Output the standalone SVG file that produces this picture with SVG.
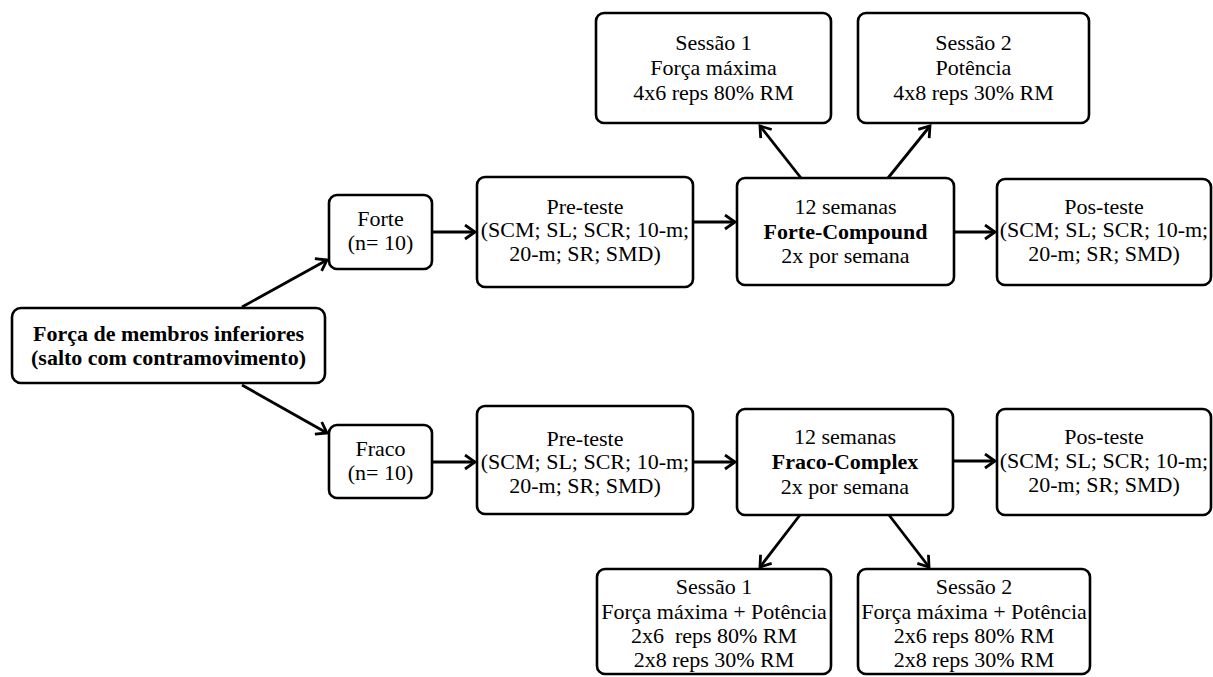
<svg xmlns="http://www.w3.org/2000/svg" width="1213" height="677" viewBox="0 0 1213 677">
<style>
.box{fill:#fff;stroke:#000;stroke-width:2.6}
text{font-family:"Liberation Serif","Times New Roman",serif;font-size:22px;fill:#000;text-anchor:middle}
.b{font-weight:bold}
.con line{stroke:#000;stroke-width:2.8}
</style>
<defs>
<marker id="ah" markerUnits="userSpaceOnUse" markerWidth="16" markerHeight="18" refX="12" refY="8" orient="auto">
<path d="M2,1 L12,8 L2,15" fill="none" stroke="#000" stroke-width="2.8"/>
</marker>
</defs>
<g id="main"><rect class="box" x="12" y="308" width="313" height="75" rx="9"/>
<text class="b" x="168.5" y="341">Força de membros inferiores</text>
<text class="b" x="168.5" y="365">(salto com contramovimento)</text></g>
<g id="forte"><rect class="box" x="329" y="195" width="103" height="74" rx="8"/>
<text x="380.5" y="226">Forte</text><text x="380.5" y="250">(n= 10)</text></g>
<g id="fraco"><rect class="box" x="329" y="425" width="103" height="73" rx="8"/>
<text x="380.5" y="456">Fraco</text><text x="380.5" y="480">(n= 10)</text></g>
<g id="pre1"><rect class="box" x="477" y="177" width="216" height="110" rx="8"/>
<text x="585" y="214">Pre-teste</text><text x="585" y="237">(SCM; SL; SCR; 10-m;</text><text x="585" y="261">20-m; SR; SMD)</text></g>
<g id="pre2"><rect class="box" x="477" y="406" width="216" height="108" rx="8"/>
<text x="585" y="446">Pre-teste</text><text x="585" y="469">(SCM; SL; SCR; 10-m;</text><text x="585" y="493">20-m; SR; SMD)</text></g>
<g id="comp1"><rect class="box" x="737" y="178" width="217" height="107" rx="8"/>
<text x="845.5" y="214">12 semanas</text><text class="b" x="845.5" y="239">Forte-Compound</text><text x="845.5" y="263">2x por semana</text></g>
<g id="comp2"><rect class="box" x="737" y="409" width="216" height="106" rx="8"/>
<text x="845" y="444">12 semanas</text><text class="b" x="845" y="469">Fraco-Complex</text><text x="845" y="494">2x por semana</text></g>
<g id="pos1"><rect class="box" x="997" y="179" width="214" height="106" rx="8"/>
<text x="1104" y="214">Pos-teste</text><text x="1104" y="237">(SCM; SL; SCR; 10-m;</text><text x="1104" y="261">20-m; SR; SMD)</text></g>
<g id="pos2"><rect class="box" x="997" y="409" width="214" height="106" rx="8"/>
<text x="1104" y="444">Pos-teste</text><text x="1104" y="468">(SCM; SL; SCR; 10-m;</text><text x="1104" y="492">20-m; SR; SMD)</text></g>
<g id="s1top"><rect class="box" x="596" y="13" width="235" height="110" rx="8"/>
<text x="713.5" y="50">Sessão 1</text><text x="713.5" y="75">Força máxima</text><text x="713.5" y="100">4x6 reps 80% RM</text></g>
<g id="s2top"><rect class="box" x="858" y="13" width="231" height="110" rx="8"/>
<text x="973.5" y="50">Sessão 2</text><text x="973.5" y="75">Potência</text><text x="973.5" y="100">4x8 reps 30% RM</text></g>
<g id="s1bot"><rect class="box" x="597" y="569" width="234" height="105" rx="8"/>
<text x="714" y="594">Sessão 1</text><text x="714" y="619">Força máxima + Potência</text><text x="714" y="643" style="white-space:pre">2x6  reps 80% RM</text><text x="714" y="667">2x8 reps 30% RM</text></g>
<g id="s2bot"><rect class="box" x="858" y="569" width="232" height="105" rx="8"/>
<text x="974" y="594">Sessão 2</text><text x="974" y="619">Força máxima + Potência</text><text x="974" y="643">2x6 reps 80% RM</text><text x="974" y="667">2x8 reps 30% RM</text></g>
<g class="con" id="connectors">
<line x1="242" y1="307" x2="327" y2="260" marker-end="url(#ah)"/>
<line x1="242" y1="385" x2="327" y2="433" marker-end="url(#ah)"/>
<line x1="432" y1="232" x2="475" y2="232" marker-end="url(#ah)"/>
<line x1="432" y1="462" x2="475" y2="462" marker-end="url(#ah)"/>
<line x1="693" y1="222" x2="735" y2="222" marker-end="url(#ah)"/>
<line x1="693" y1="462" x2="735" y2="462" marker-end="url(#ah)"/>
<line x1="954" y1="232" x2="995" y2="232" marker-end="url(#ah)"/>
<line x1="953" y1="461" x2="995" y2="461" marker-end="url(#ah)"/>
<line x1="801" y1="178" x2="760" y2="126" marker-end="url(#ah)"/>
<line x1="888" y1="178" x2="930" y2="126" marker-end="url(#ah)"/>
<line x1="800" y1="515" x2="760" y2="567" marker-end="url(#ah)"/>
<line x1="889" y1="515" x2="929" y2="567" marker-end="url(#ah)"/>
</g>
</svg>
